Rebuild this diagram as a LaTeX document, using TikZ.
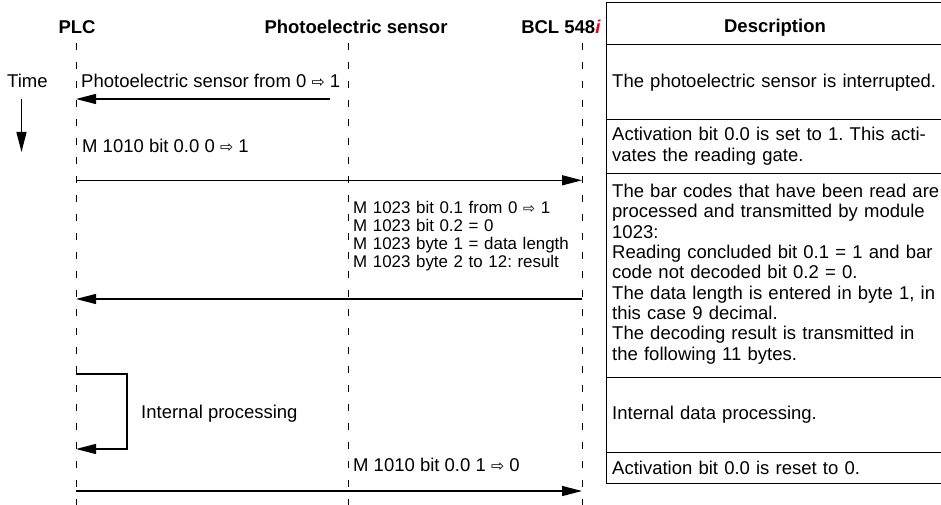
\documentclass[tikz,border=0pt]{standalone}
\usepackage{fontspec}
\setmainfont{Liberation Sans}
\newfontfamily\symfont{DejaVu Sans}
\usetikzlibrary{arrows.meta,positioning}
\definecolor{bclred}{RGB}{226,0,26}
\newcommand{\wra}{\scalebox{0.85}{\symfont ⇨}}
\frenchspacing

\begin{document}
\begin{tikzpicture}[x=1pt,y=-1pt,>={Triangle[length=20pt,width=10pt]}]
  \tikzstyle{head}=[font=\fontsize{18.5}{20}\selectfont\bfseries,inner sep=0pt,anchor=base]
  \tikzstyle{txt}=[font=\fontsize{18.5}{20.3}\selectfont,inner sep=0pt,anchor=base west,align=left]
  \tikzstyle{small}=[font=\fontsize{16.9}{18}\selectfont,inner sep=0pt,anchor=base west,align=left,text width=240pt]
  \tikzstyle{cell}=[txt,text width=330pt]
  \tikzstyle{life}=[line width=1pt,dash pattern=on 7pt off 12pt]
  \tikzstyle{msg}=[->,line width=1.3pt]
  \useasboundingbox (0,0) rectangle (941,505);

  % participants and lifelines
  \node[head] (plc) at (77,33.6) {PLC};
  \node[head] (sensor) at (356,33.6) {Photoelectric sensor};
  \node[head] (bcl) at (561,33.6) {BCL 548\textcolor{bclred}{\textit{i}}};
  \coordinate (plcT) at (76,43);  \coordinate (plcB) at (76,505);
  \coordinate (senT) at (348,43); \coordinate (senB) at (348,505);
  \coordinate (bclT) at (582,43); \coordinate (bclB) at (582,505);
  \draw[life] (plcT) -- (plcB);
  \draw[life] (senT) -- (senB);
  \draw[life] (bclT) -- (bclB);

  % time axis
  \node[txt] (time) at (7,88) {Time};
  \coordinate (tA) at (21.5,99); \coordinate (tB) at (21.5,152);
  \draw[msg] (tA) -- (tB);

  % messages
  \node[txt] (t1) at (81,88) {Photoelectric sensor from 0 \wra{} 1};
  \coordinate (m1) at (330,99);
  \draw[msg] (m1) -- (m1 -| plcT);

  \node[txt] (t2) at (82,153) {M 1010 bit 0.0 0 \wra{} 1};
  \coordinate (m2) at (0,180.3);
  \draw[msg] (m2 -| plcT) -- (m2 -| bclT);

  \node[small] (t3) at (353,213) {M 1023 bit 0.1 from 0 \wra{} 1\\M 1023 bit 0.2 = 0\\M 1023 byte 1 = data length\\M 1023 byte 2 to 12: result};
  \coordinate (m3) at (0,299);
  \draw[msg] (m3 -| bclT) -- (m3 -| plcT);

  \node[txt] (t4) at (141,418.6) {Internal processing};
  \coordinate (loopA) at (127,374); \coordinate (loopB) at (127,449);
  \draw[msg] (loopA -| plcT) -- (loopA) -- (loopB) -- (loopB -| plcT);

  \node[txt] (t5) at (353,471.5) {M 1010 bit 0.0 1 \wra{} 0};
  \coordinate (m5) at (0,491);
  \draw[msg] (m5 -| plcT) -- (m5 -| bclT);

  % description table
  \draw[line width=1pt] (606,3) rectangle (943,483);
  \draw[line width=1pt] (606,45) -- (943,45) (606,120) -- (943,120) (606,173) -- (943,173)
    (606,377) -- (943,377) (606,452) -- (943,452);
  \node[head] (desc) at (775,32.6) {Description};
  \node[cell] (d1) at (612,87.3) {The photoelectric sensor is interrupted.};
  \node[cell] (d2) at (612,141) {Activation bit 0.0 is set to 1. This acti-\\vates the reading gate.};
  \node[cell] (d3) at (612,197.6) {The bar codes that have been read are\\processed and transmitted by module\\1023:\\Reading concluded bit 0.1 = 1 and bar\\code not decoded bit 0.2 = 0.\\The data length is entered in byte 1, in\\this case 9 decimal.\\The decoding result is transmitted in\\the following 11 bytes.};
  \node[cell] (d4) at (612,419.6) {Internal data processing.};
  \node[cell] (d5) at (612,474.5) {Activation bit 0.0 is reset to 0.};
\end{tikzpicture}
\end{document}
